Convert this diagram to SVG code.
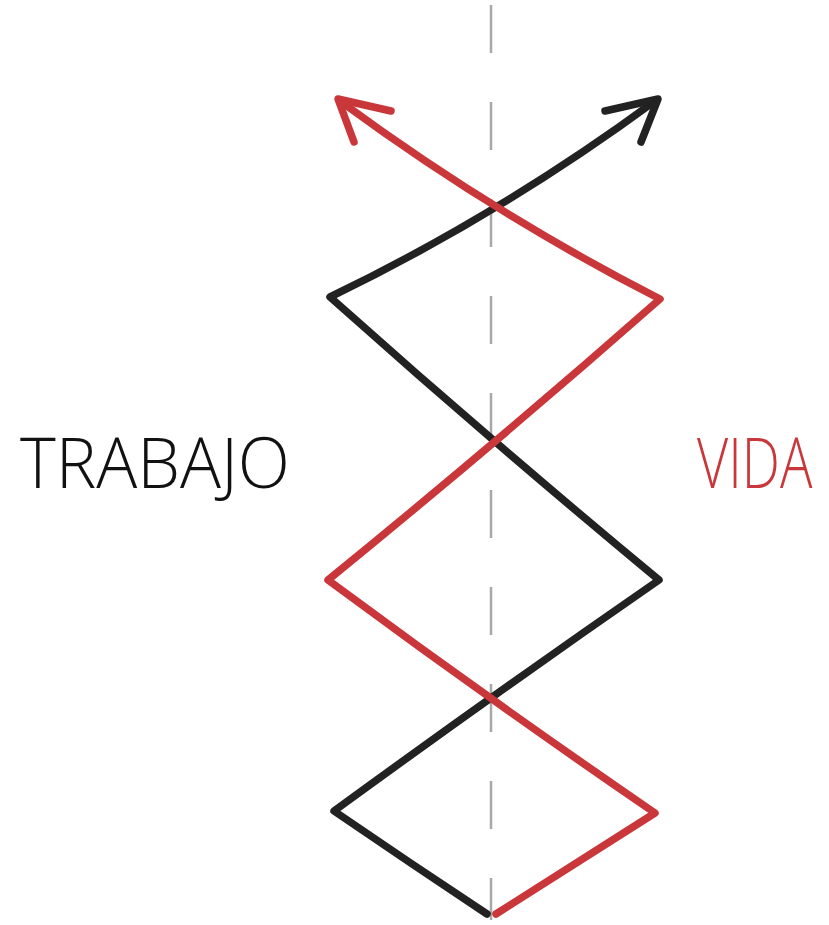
<svg xmlns="http://www.w3.org/2000/svg" width="829" height="925" viewBox="0 0 829 925">
  <style>
    .axis { stroke: #a8a8a8; stroke-width: 2.5; stroke-dasharray: 48 49; fill: none; }
    .blk { stroke: #222222; stroke-width: 7.5; fill: none; stroke-linecap: round; stroke-linejoin: round; }
    .red { stroke: #c9373a; stroke-width: 7.5; fill: none; stroke-linecap: round; stroke-linejoin: round; }
    .lbl { font-family: "Open Sans", "Liberation Sans", sans-serif; font-weight: 300; }
  </style>
  <rect width="829" height="925" fill="#ffffff"/>
  <g id="axis">
    <line class="axis" x1="491" y1="5" x2="491" y2="920"/>
  </g>
  <g id="connectors">
    <path id="work-line" class="blk" d="M487,914 Q410,863 334,811 Q500,690 659,580 Q490,440 330,297 Q500,215 655,101"/>
    <path id="work-arrow" class="blk" d="M605,111 L658,99 L641,142"/>
    <path id="life-line" class="red" d="M496,914 Q576,863 655,813 Q490,700 328,580 Q500,440 660,299 Q495,215 340,101"/>
    <path id="life-arrow" class="red" d="M391,111 L338,99 L354,142"/>
  </g>
  <g id="trabajo">
    <text class="lbl" x="20" y="488" font-size="70" fill="#111111" textLength="270" lengthAdjust="spacingAndGlyphs">TRABAJO</text>
  </g>
  <g id="vida">
    <text class="lbl" transform="translate(697,488) scale(1,1.3)" x="0" y="0" font-size="54" fill="#c9373a">VIDA</text>
  </g>
</svg>
